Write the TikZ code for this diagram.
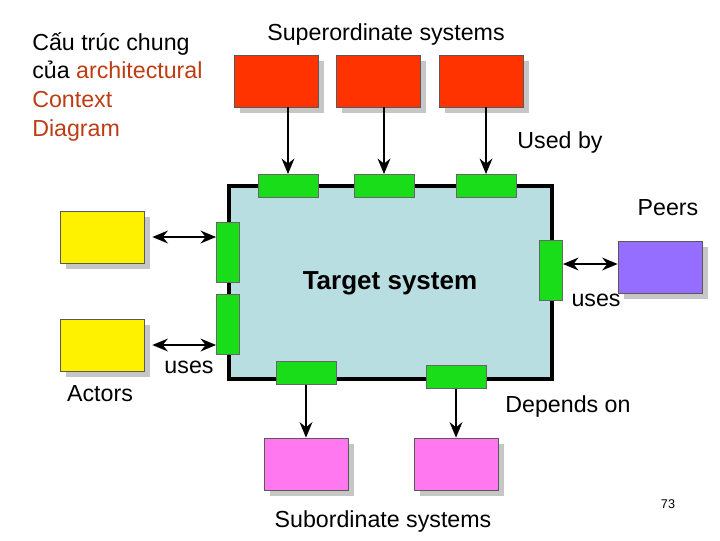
\documentclass[tikz,border=0pt]{standalone}
\usepackage{fontspec}
\setmainfont{Liberation Sans}
\usetikzlibrary{arrows.meta,shadows}
\definecolor{brickred}{RGB}{190,60,20}
\tikzset{
  sys/.style={draw=gray!70!black, minimum width=2.1cm, minimum height=1.3cm,
    drop shadow={shadow xshift=4pt, shadow yshift=-4pt, fill=gray!45, opacity=1}},
  port/.style={draw=black!60, fill=green!85!black!90, inner sep=0pt},
  hport/.style={port, minimum width=1.5cm, minimum height=0.58cm},
  vport/.style={port, minimum width=0.58cm, minimum height=1.5cm},
  lbl/.style={font=\fontsize{16.5}{20.5}\selectfont},
  flow/.style={-{Stealth[length=11pt,width=9pt]}, line width=2pt},
  both/.style={{Stealth[length=11pt,width=9pt]}-{Stealth[length=11pt,width=9pt]}, line width=2pt}
}
\begin{document}
\begin{tikzpicture}[x=0.025cm,y=-0.025cm]
        \useasboundingbox (0,0) rectangle (720,540);
        % Title
        \node[lbl, align=left, anchor=north west, inner sep=0pt] (title) at (32,32)
          {Cấu trúc chung\\của \textcolor{brickred}{architectural}\\\textcolor{brickred}{Context}\\\textcolor{brickred}{Diagram}};
        
        % Target system
        \node[draw, line width=2.5pt, fill={rgb,255:red,185;green,222;blue,226},
          minimum width=8.08cm, minimum height=4.83cm] (target) at (390.5,282.5) {};
        \node[font=\fontsize{18.5}{22}\selectfont\bfseries] (tname) at (390,283) {Target system};
        
        % Superordinate systems
        \node[lbl] (suptxt) at (386,34) {Superordinate systems};
        \foreach \n/\x/\px in {1/276/288, 2/378/384, 3/481/486}{
          \node[sys, fill={rgb,255:red,255;green,51;blue,0}] (sup\n) at (\x,81) {};
          \node[hport] (tp\n) at (\px,186) {};
          \draw[flow] (sup\n.south -| tp\n) -- (tp\n.north);
        }
        \node[lbl] (usedby) at (560,142) {Used by};
        
        % Actors
        \node[sys, fill=yellow] (act1) at (102,237) {};
        \node[sys, fill=yellow] (act2) at (102,345) {};
        \node[vport] (lp1) at (228,252) {};
        \node[vport] (lp2) at (228,324) {};
        \draw[both] (act1.east) ++(8,0) coordinate (a1) -- (a1 -| lp1.west) coordinate (b1);
        \draw[both] (a1 |- act2.east) -- (b1 |- act2.east);
        \node[lbl] (uses1) at (189,367) {uses};
        \node[lbl] (actors) at (100,394) {Actors};
        
        % Peers
        \node[sys, fill={rgb,255:red,150;green,110;blue,255}] (peer) at (660,267) {};
        \node[vport] (rp) at (551,270) {};
        \draw[both] (rp.east |- 0,264) coordinate (c1) -- (c1 -| peer.west);
        \node[lbl] (peers) at (668,208) {Peers};
        \node[lbl] (uses2) at (596,300) {uses};
        
        % Subordinate systems
        \foreach \n/\x/\px/\py in {1/306/306/373, 2/456/456/377}{
          \node[sys, fill={rgb,255:red,255;green,120;blue,240}] (sub\n) at (\x,464) {};
          \node[hport] (bp\n) at (\px,\py) {};
          \draw[flow] (bp\n.south) -- (sub\n.north -| bp\n);
        }
        \node[lbl] (depends) at (568,406) {Depends on};
        \node[lbl] (subtxt) at (383,521) {Subordinate systems};
        \node[font=\small] (page) at (668,504) {73};
\end{tikzpicture}
\end{document}
